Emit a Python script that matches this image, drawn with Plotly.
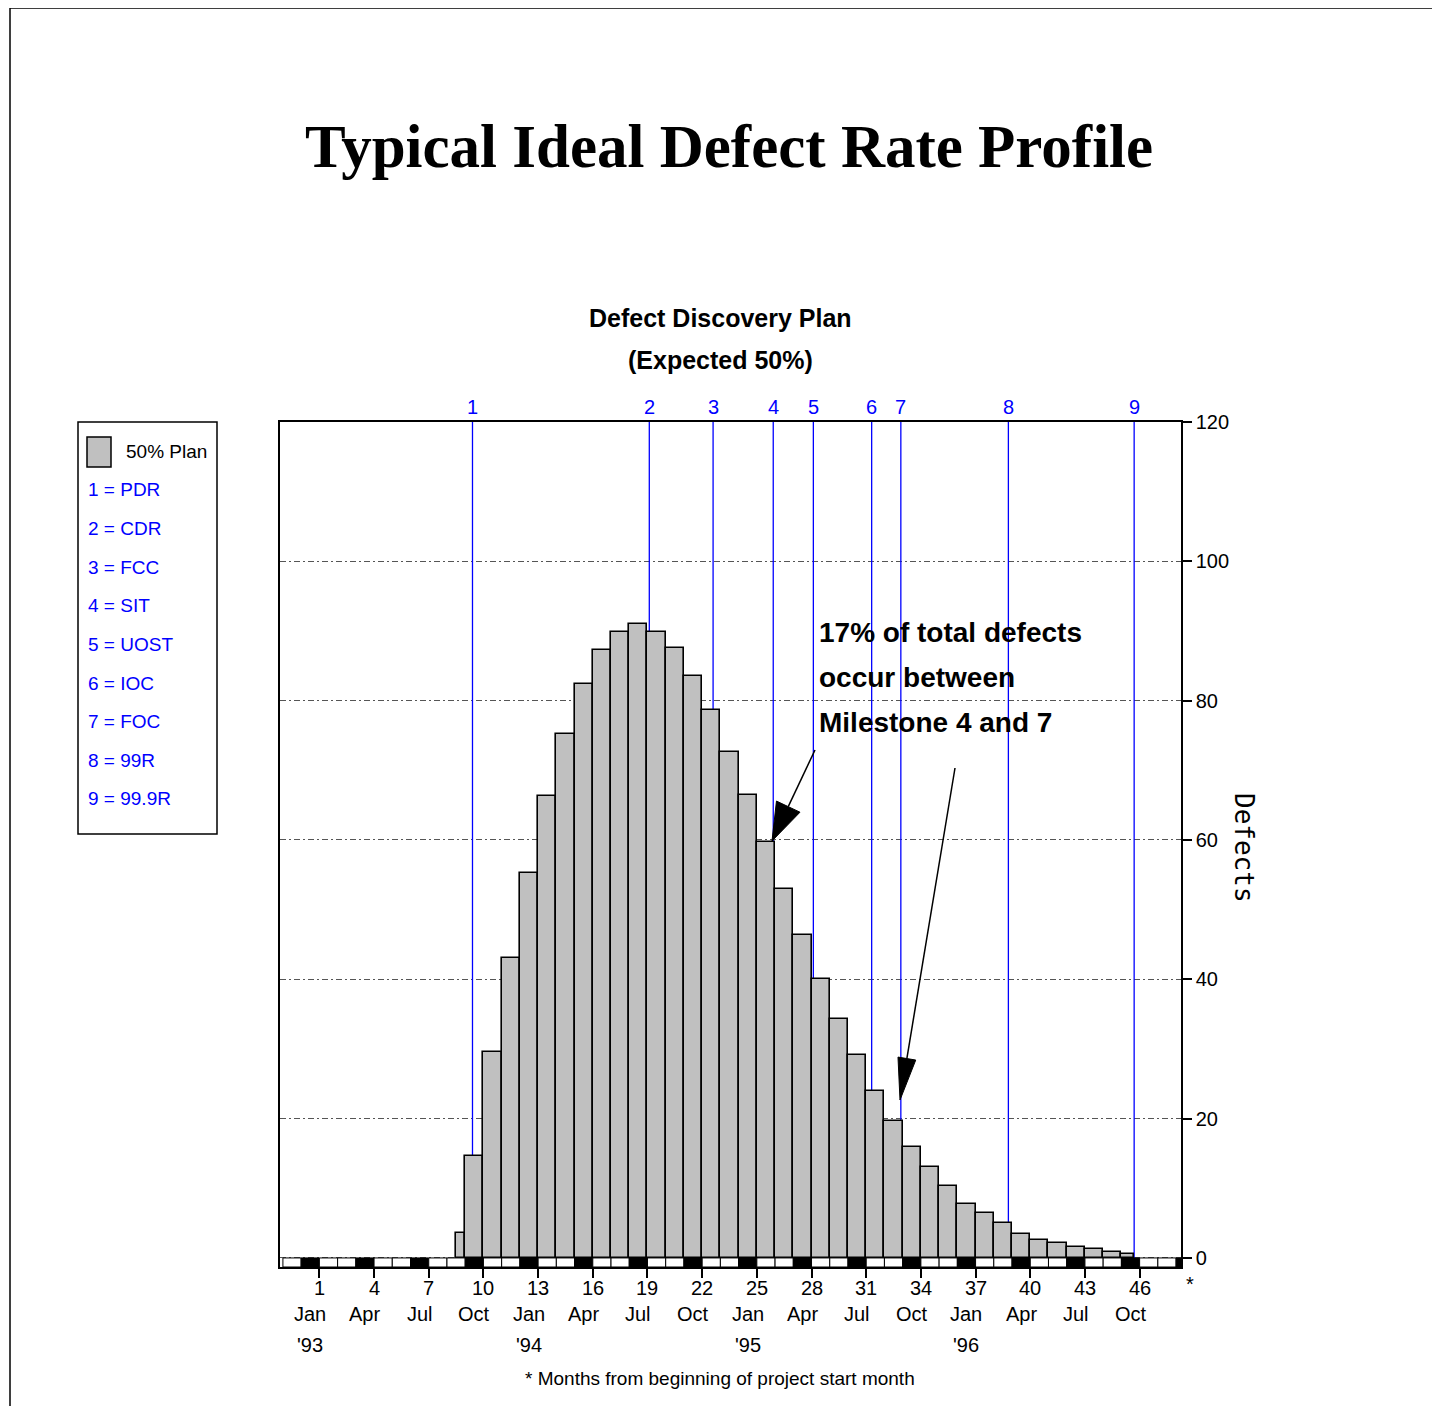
import math
import plotly.graph_objects as go

# ---------------- data ----------------
period_start = [8.5, 9, 10, 11, 12, 13, 14, 15, 16, 17, 18, 19, 20, 21, 22, 23, 24, 25, 26,
                27, 28, 29, 30, 31, 32, 33, 34, 35, 36, 37, 38, 39, 40, 41, 42, 43, 44, 45]
period_end = [9, 10, 11, 12, 13, 14, 15, 16, 17, 18, 19, 20, 21, 22, 23, 24, 25, 26, 27,
              28, 29, 30, 31, 32, 33, 34, 35, 36, 37, 38, 39, 40, 41, 42, 43, 44, 45, 45.7]
defects_50pct = [3.6, 14.7, 29.5, 43.0, 55.2, 66.3, 75.2, 82.4, 87.2, 89.8, 91.0, 89.8, 87.5,
                 83.5, 78.6, 72.6, 66.4, 59.7, 53.0, 46.4, 40.0, 34.3, 29.1, 23.9, 19.7, 15.9,
                 13.0, 10.4, 7.8, 6.4, 5.0, 3.5, 2.6, 2.1, 1.5, 1.25, 0.9, 0.5]

milestone_month = [9.4, 19.1, 22.6, 25.9, 28.1, 31.3, 32.9, 38.8, 45.7]
milestone_id = ["1", "2", "3", "4", "5", "6", "7", "8", "9"]
milestone_name = ["PDR", "CDR", "FCC", "SIT", "UOST", "IOC", "FOC", "99R", "99.9R"]

tick_month = [1, 4, 7, 10, 13, 16, 19, 22, 25, 28, 31, 34, 37, 40, 43, 46]
tick_month_name = ["Jan", "Apr", "Jul", "Oct"] * 4
tick_year = {1: "'93", 13: "'94", 25: "'95", 37: "'96"}
y_ticks = [0, 20, 40, 60, 80, 100, 120]

# ---------------- geometry (reference pixels; page body has an 8px margin) ----------------
OFF = 8
W, H = 1440 - OFF, 1406 - OFF
PL, PR, PT, PB = 280, 1181, 422, 1267
X_RANGE = [-1.16, 48.27]
Y_RANGE = [-1.3, 120]

SANS = "Liberation Sans, Arial, sans-serif"
BLUE = "#0000FF"


def pxp(px):
    return (px - PL) / (PR - PL)


def pyp(py):
    return (PB - py) / (PB - PT)


def px2x(px):
    return X_RANGE[0] + (px - PL) / (PR - PL) * (X_RANGE[1] - X_RANGE[0])


def py2y(py):
    return Y_RANGE[0] + (PB - py) / (PB - PT) * (Y_RANGE[1] - Y_RANGE[0])


fig = go.Figure()

centers = [(a + b) / 2 for a, b in zip(period_start, period_end)]
widths = [b - a for a, b in zip(period_start, period_end)]
fig.add_trace(go.Bar(
    x=centers, y=defects_50pct, width=widths, base=0,
    marker=dict(color="#C0C0C0", line=dict(color="black", width=1.6)),
    name="50% Plan", showlegend=False, hoverinfo="skip"))

shapes = []
annotations = []

# milestone lines (between gridlines and bars)
for m in milestone_month:
    shapes.append(dict(type="line", xref="x", yref="y", x0=m, x1=m, y0=0, y1=Y_RANGE[1],
                       line=dict(color=BLUE, width=1.3), layer="between"))
for m, lab in zip(milestone_month, milestone_id):
    annotations.append(dict(x=m, y=pyp(407), xref="x", yref="paper", text=lab, showarrow=False,
                            font=dict(family=SANS, size=20, color=BLUE),
                            xanchor="center", yanchor="middle"))

# calendar strip under the zero line
k = -1
while k < X_RANGE[1]:
    x0 = max(k, X_RANGE[0])
    x1 = min(k + 1, X_RANGE[1])
    fill = "black" if k % 3 == 0 else "white"
    shapes.append(dict(type="rect", xref="x", yref="y", x0=x0, x1=x1, y0=Y_RANGE[0], y1=0,
                       fillcolor=fill, line=dict(color="black", width=1), layer="above"))
    k += 1

# tick numbers, month / year labels
LBL = dict(family=SANS, size=20, color="black")
for m, name in zip(tick_month, tick_month_name):
    annotations.append(dict(x=m, y=pyp(1288), xref="x", yref="paper", text=str(m),
                            showarrow=False, font=LBL, xanchor="center", yanchor="middle"))
    annotations.append(dict(x=m - 0.5, y=pyp(1314), xref="x", yref="paper", text=name,
                            showarrow=False, font=LBL, xanchor="center", yanchor="middle"))
    if m in tick_year:
        annotations.append(dict(x=m - 0.5, y=pyp(1345), xref="x", yref="paper",
                                text=tick_year[m], showarrow=False, font=LBL,
                                xanchor="center", yanchor="middle"))
annotations.append(dict(x=pxp(1190), y=pyp(1284), xref="paper", yref="paper", text="*",
                        showarrow=False, font=LBL, xanchor="center", yanchor="middle"))
annotations.append(dict(x=pxp(720), y=pyp(1378), xref="paper", yref="paper",
                        text="* Months from beginning of project start month",
                        showarrow=False, font=dict(family=SANS, size=19, color="black"),
                        xanchor="center", yanchor="middle"))

# titles
annotations.append(dict(x=pxp(729), y=pyp(147), xref="paper", yref="paper",
                        text="<b>Typical Ideal Defect Rate Profile</b>", showarrow=False,
                        font=dict(family="Liberation Serif, Times New Roman, serif", size=61,
                                  color="black"),
                        xanchor="center", yanchor="middle"))
annotations.append(dict(x=pxp(720), y=pyp(318), xref="paper", yref="paper",
                        text="<b>Defect Discovery Plan</b>", showarrow=False,
                        font=dict(family=SANS, size=25, color="black"),
                        xanchor="center", yanchor="middle"))
annotations.append(dict(x=pxp(720), y=pyp(360), xref="paper", yref="paper",
                        text="<b>(Expected 50%)</b>", showarrow=False,
                        font=dict(family=SANS, size=25, color="black"),
                        xanchor="center", yanchor="middle"))

# y-axis title
annotations.append(dict(x=pxp(1244), y=pyp(848), xref="paper", yref="paper", text="Defects",
                        showarrow=False, textangle=90,
                        font=dict(family="DejaVu Sans Mono, monospace", size=26, color="black"),
                        xanchor="center", yanchor="middle"))

# call-out text
for txt, py in [("17% of total defects", 632), ("occur between", 677),
                ("Milestone 4 and 7", 722)]:
    annotations.append(dict(x=pxp(817), y=pyp(py), xref="paper", yref="paper",
                            text="<b>" + txt + "</b>", showarrow=False,
                            font=dict(family=SANS, size=28, color="black"),
                            xanchor="left", yanchor="middle"))


def arrow(tail, tip, head_len, head_half):
    tx, ty = tail
    hx, hy = tip
    L = math.hypot(hx - tx, hy - ty)
    ux, uy = (hx - tx) / L, (hy - ty) / L
    nx, ny = -uy, ux
    bx, by = hx - ux * head_len, hy - uy * head_len
    p1 = (bx + nx * head_half, by + ny * head_half)
    p2 = (bx - nx * head_half, by - ny * head_half)
    shapes.append(dict(type="line", xref="x", yref="y", x0=px2x(tx), y0=py2y(ty),
                       x1=px2x(bx), y1=py2y(by), line=dict(color="black", width=1.5),
                       layer="above"))
    path = "M {},{} L {},{} L {},{} Z".format(px2x(hx), py2y(hy), px2x(p1[0]), py2y(p1[1]),
                                             px2x(p2[0]), py2y(p2[1]))
    shapes.append(dict(type="path", xref="x", yref="y", path=path, fillcolor="black",
                       line=dict(color="black", width=1), layer="above"))


arrow((815, 750), (772, 841), 38, 13)
arrow((955, 768), (900, 1100), 42, 9)

# legend box
shapes.append(dict(type="rect", xref="paper", yref="paper", x0=pxp(78), x1=pxp(217),
                   y0=pyp(834), y1=pyp(422), line=dict(color="black", width=1.5),
                   fillcolor="white", layer="above"))
shapes.append(dict(type="rect", xref="paper", yref="paper", x0=pxp(87), x1=pxp(111),
                   y0=pyp(467), y1=pyp(437), line=dict(color="black", width=1.5),
                   fillcolor="#C0C0C0", layer="above"))
annotations.append(dict(x=pxp(124), y=pyp(451), xref="paper", yref="paper", text="50% Plan",
                        showarrow=False, font=dict(family=SANS, size=19, color="black"),
                        xanchor="left", yanchor="middle"))
for i, (mid, nm) in enumerate(zip(milestone_id, milestone_name)):
    annotations.append(dict(x=pxp(86), y=pyp(490 + i * 38.6), xref="paper", yref="paper",
                            text=f"{mid} = {nm}", showarrow=False,
                            font=dict(family=SANS, size=19, color=BLUE),
                            xanchor="left", yanchor="middle"))

# page frame
shapes.append(dict(type="rect", xref="paper", yref="paper", x0=pxp(10), x1=pxp(1460),
                   y0=pyp(1430), y1=pyp(8), line=dict(color="black", width=1.5),
                   fillcolor="rgba(0,0,0,0)", layer="above"))

fig.update_layout(
    width=W, height=H,
    margin=dict(l=PL - OFF, r=W - (PR - OFF), t=PT - OFF, b=H - (PB - OFF), autoexpand=False),
    paper_bgcolor="white", plot_bgcolor="white",
    showlegend=False,
    bargap=0,
    shapes=shapes, annotations=annotations,
    xaxis=dict(range=X_RANGE, tickmode="array", tickvals=tick_month, showticklabels=False,
               ticks="outside", ticklen=9, tickcolor="black", tickwidth=1.5,
               showgrid=False, zeroline=False, showline=True, linecolor="black",
               linewidth=1.5, mirror=True, fixedrange=True),
    yaxis=dict(range=Y_RANGE, side="right", tickmode="array", tickvals=y_ticks,
               ticks="outside", ticklen=9, tickcolor="black", tickwidth=1.5,
               tickfont=dict(family=SANS, size=20, color="black"),
               showgrid=True, gridcolor="#555555", gridwidth=1, griddash="6px,3px,2px,3px",
               zeroline=False, showline=True, linecolor="black", linewidth=1.5,
               mirror=True, fixedrange=True),
)

fig.write_html("out.html")
